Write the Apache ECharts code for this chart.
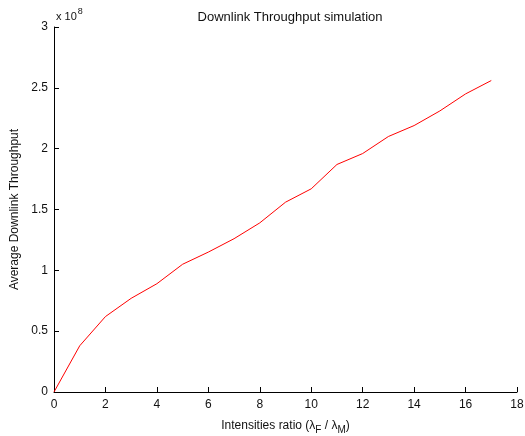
<!DOCTYPE html>
<html>
<head>
<meta charset="utf-8">
<script src="https://cdn.jsdelivr.net/npm/echarts@6/dist/echarts.min.js"></script>
<style>
  html, body { margin: 0; padding: 0; background: #fff; }
  #chart { width: 525px; height: 436px; }
</style>
</head>
<body>
<div id="chart"></div>
<script>
// Intensity ratio lambda_F / lambda_M
const ratios = [0, 1, 2, 3, 4, 5, 6, 7, 8, 9, 10, 11, 12, 13, 14, 15, 16, 17];
// Average downlink throughput, in units of 10^8
const throughput = [0, 0.38, 0.62, 0.77, 0.89, 1.05, 1.15, 1.26, 1.39, 1.56, 1.67, 1.87, 1.96, 2.10, 2.19, 2.31, 2.45, 2.56];
const yTicks = ['0', '0.5', '1', '1.5', '2', '2.5', '3'];

const font = '"Liberation Sans", Arial, sans-serif';
const chart = echarts.init(document.getElementById('chart'), null, { renderer: 'canvas' });

chart.setOption({
  animation: false,
  backgroundColor: '#fff',
  title: {
    text: 'Downlink Throughput simulation',
    left: 285, top: 6, textAlign: 'center',
    textStyle: { fontFamily: font, fontSize: 13, fontWeight: 'normal', color: '#111' }
  },
  grid: { left: 54, right: 8, top: 27, bottom: 44, containLabel: false, outerBoundsMode: 'none' },
  xAxis: {
    type: 'value', min: 0, max: 18, interval: 2,
    axisLine: { onZero: false, lineStyle: { color: '#000', width: 1 } },
    axisTick: { inside: true, length: 5, lineStyle: { color: '#000' } },
    axisLabel: { margin: 7, fontFamily: font, fontSize: 12, color: '#111' },
    splitLine: { show: false },
    name: '{n|Intensities ratio (λ}{s|F}{n| / λ}{s|M}{n|)}',
    nameLocation: 'middle', nameGap: 23,
    nameTextStyle: {
      rich: {
        n: { fontFamily: font, fontSize: 12, color: '#111', lineHeight: 15 },
        s: { fontFamily: font, fontSize: 10, color: '#111', padding: [9, 0, 0, 0], lineHeight: 15 }
      }
    }
  },
  yAxis: {
    type: 'value', min: 0, max: 3, interval: 0.5,
    axisLine: { show: true, onZero: false, lineStyle: { color: '#000', width: 1 } },
    axisTick: { show: true, inside: true, length: 5, lineStyle: { color: '#000' } },
    axisLabel: {
      margin: 6, fontFamily: font, fontSize: 12, color: '#111',
      formatter: (v) => yTicks[Math.round(v * 2)]
    },
    splitLine: { show: false },
    name: 'Average Downlink Throughput',
    nameLocation: 'middle', nameGap: 31, nameRotate: 90,
    nameTextStyle: { fontFamily: font, fontSize: 12, color: '#111' }
  },
  graphic: [{
    type: 'text', left: 56, top: 7,
    style: {
      text: '{n|x 10}{p|8}',
      rich: {
        n: { fontFamily: font, fontSize: 11, fill: '#111', padding: [6, 0, 0, 0] },
        p: { fontFamily: font, fontSize: 9, fill: '#111', padding: [0, 0, 4, 1] }
      }
    }
  }],
  series: [{
    type: 'line',
    data: ratios.map((r, i) => [r, throughput[i]]),
    showSymbol: false,
    lineStyle: { color: '#ff0000', width: 1 },
    itemStyle: { color: '#ff0000' }
  }]
});
</script>
</body>
</html>
